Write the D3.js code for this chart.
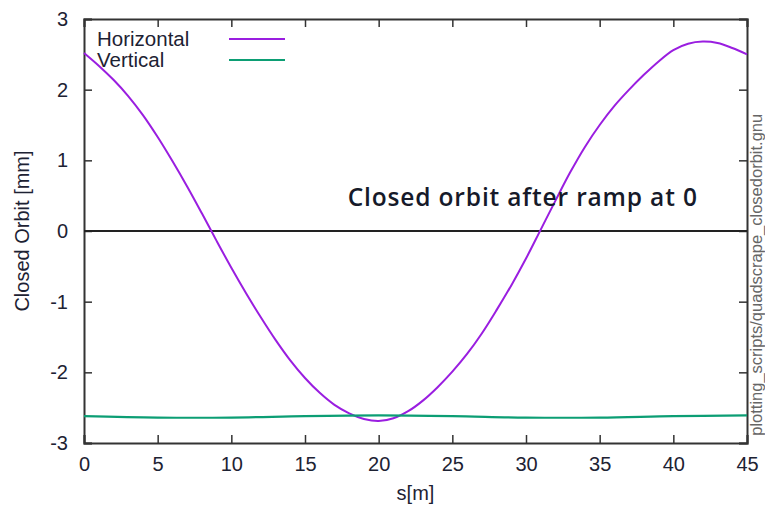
<!DOCTYPE html>
<html>
<head>
<meta charset="utf-8">
<script src="https://cdn.jsdelivr.net/npm/d3@7"></script>
<style>
  body { margin: 0; background: #fff; }
  .axis path, .axis line { stroke: #333; }
</style>
</head>
<body>
<div id="chart"></div>
<script>
var sPos = [0, 1, 2, 3, 4, 5, 6, 7, 8, 9, 10, 11, 12, 13, 14, 15, 16, 17, 18, 19, 20, 21, 22,
  23, 24, 25, 26, 27, 28, 29, 30, 31, 32, 33, 34, 35, 36, 37, 38, 39, 40, 41, 42, 43, 44, 45]
var horizontal = [2.52, 2.34, 2.14, 1.91, 1.64, 1.33, 0.99, 0.63, 0.25, -0.14, -0.52, -0.88, -1.22,
  -1.54, -1.83, -2.08, -2.29, -2.46, -2.58, -2.66, -2.69, -2.65, -2.55, -2.40, -2.21, -1.99, -1.74,
  -1.45, -1.12, -0.77, -0.39, 0.02, 0.43, 0.83, 1.19, 1.50, 1.77, 2.00, 2.21, 2.40, 2.56, 2.65,
  2.68, 2.66, 2.59, 2.50]

var vPos = [0, 5, 10, 15, 20, 25, 30, 35, 40, 45]
var vertical = [-2.62, -2.64, -2.64, -2.62, -2.61, -2.62, -2.64, -2.64, -2.62, -2.61]

var xTicks = [0, 5, 10, 15, 20, 25, 30, 35, 40, 45]
var yTicks = [-3, -2, -1, 0, 1, 2, 3]

var seriesNames = ['Horizontal', 'Vertical']
var seriesColors = ['#9a1ee0', '#0c9e74']
var note = 'Closed orbit after ramp at 0'
var scriptName = 'plotting_scripts/quadscrape_closedorbit.gnu'

var W = 765, H = 507
var margin = {left: 84, right: 18, top: 19, bottom: 64}
var width = W - margin.left - margin.right
var height = H - margin.top - margin.bottom
var font = "'Liberation Sans', Arial, sans-serif"

var svg = d3.select('#chart').append('svg').attr('width', W).attr('height', H)
  .style('font-family', font)
var g = svg.append('g').attr('transform', 'translate(' + margin.left + ',' + margin.top + ')')

var x = d3.scaleLinear().domain([0, 45]).range([0, width])
var y = d3.scaleLinear().domain([-3, 3]).range([height, 0])

// ticks point inward on all four sides, like gnuplot
var tick = 8
var plain = function(d){ return String(d) }
g.append('g').attr('class', 'axis').attr('transform', 'translate(0,' + height + ')')
  .call(d3.axisBottom(x).tickValues(xTicks).tickSize(-tick).tickPadding(14).tickFormat(plain))
g.append('g').attr('class', 'axis')
  .call(d3.axisTop(x).tickValues(xTicks).tickSize(-tick).tickFormat(''))
g.append('g').attr('class', 'axis')
  .call(d3.axisLeft(y).tickValues(yTicks).tickSize(-tick).tickPadding(16).tickFormat(plain))
g.append('g').attr('class', 'axis').attr('transform', 'translate(' + width + ',0)')
  .call(d3.axisRight(y).tickValues(yTicks).tickSize(-tick).tickFormat(''))

g.selectAll('.axis path').attr('stroke-width', 2)
g.selectAll('.axis line').attr('stroke-width', 1.5)
g.selectAll('.axis text').attr('font-size', 20).attr('fill', '#1d2233').attr('font-family', font)

// zero line
g.append('line')
  .attr('x1', 0).attr('x2', width).attr('y1', y(0)).attr('y2', y(0))
  .attr('stroke', '#222').attr('stroke-width', 2)

var line = d3.line().curve(d3.curveCatmullRom)

g.append('path')
  .attr('d', line(sPos.map(function(s, i){ return [x(s), y(horizontal[i])] })))
  .attr('fill', 'none').attr('stroke', seriesColors[0]).attr('stroke-width', 2)

g.append('path')
  .attr('d', line(vPos.map(function(s, i){ return [x(s), y(vertical[i])] })))
  .attr('fill', 'none').attr('stroke', seriesColors[1]).attr('stroke-width', 2.2)

// legend
seriesNames.forEach(function(name, i){
  var ly = 20 + i * 21
  g.append('text').attr('x', 13).attr('y', ly + 7).attr('font-size', 20.5)
    .attr('fill', '#1d2233').text(name)
  g.append('line').attr('x1', 145).attr('x2', 201).attr('y1', ly).attr('y2', ly)
    .attr('stroke', seriesColors[i]).attr('stroke-width', 2)
})

g.append('text')
  .attr('x', x(17.9)).attr('y', y(0.35))
  .style('font-family', "'Open Sans', sans-serif").attr('font-size', 24.5).attr('font-weight', 600)
  .attr('textLength', x(41.6) - x(17.9)).attr('lengthAdjust', 'spacing')
  .attr('fill', '#161a2a')
  .text(note)

// axis titles
svg.append('text')
  .attr('x', margin.left + width / 2).attr('y', H - 7)
  .attr('text-anchor', 'middle').attr('font-size', 20).attr('fill', '#1d2233')
  .text('s[m]')

svg.append('text')
  .attr('transform', 'translate(29,' + (margin.top + y(0)) + ') rotate(-90)')
  .attr('text-anchor', 'middle').attr('font-size', 20).attr('fill', '#1d2233')
  .text('Closed Orbit [mm]')

svg.append('text')
  .attr('transform', 'translate(762,' + (margin.top + y(-0.62)) + ') rotate(-90)')
  .attr('text-anchor', 'middle').attr('font-size', 16.5).attr('fill', '#666')
  .text(scriptName)
</script>
</body>
</html>
